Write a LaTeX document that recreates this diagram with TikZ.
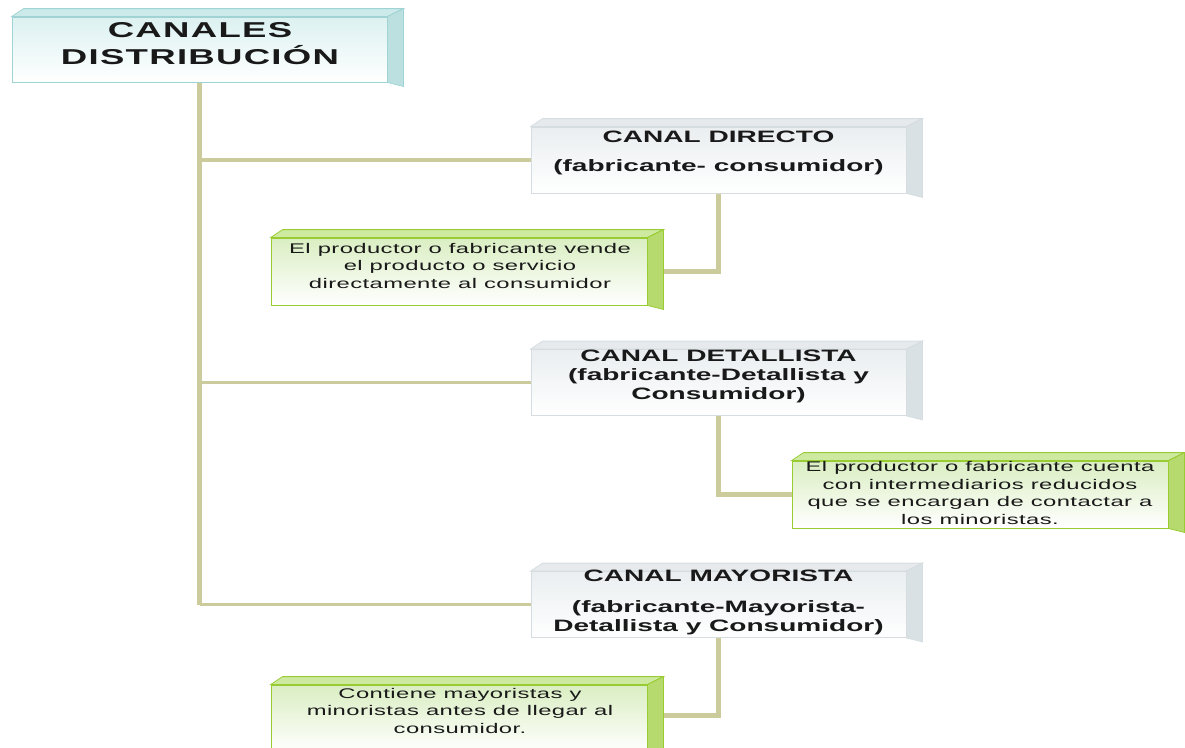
\documentclass[tikz,border=0pt]{standalone}
\usepackage{fontspec}
\setmainfont{Liberation Sans}[FakeStretch=1.7]
\newfontfamily\rootfont{Liberation Sans}[FakeStretch=1.7, LetterSpace=6]
\newfontfamily\notafont{Liberation Sans}[FakeStretch=1.7, LetterSpace=3]
\usepackage{tikz}
\usetikzlibrary{positioning,backgrounds}

\definecolor{linkcol}{RGB}{203,203,155}
\definecolor{rootfill}{RGB}{220,241,241}
\definecolor{rootline}{RGB}{160,212,212}
\definecolor{roottop}{RGB}{204,234,234}
\definecolor{rootside}{RGB}{188,224,224}
\definecolor{canalfill}{RGB}{234,238,240}
\definecolor{canalline}{RGB}{214,221,224}
\definecolor{canaltop}{RGB}{230,234,236}
\definecolor{canalside}{RGB}{218,225,228}
\definecolor{notafill}{RGB}{218,238,194}
\definecolor{notaline}{RGB}{153,204,51}
\definecolor{notatop}{RGB}{206,234,160}
\definecolor{notaside}{RGB}{182,218,110}

\tikzset{
  basic/.style  = {rectangle, inner sep=0pt, minimum width=375pt, line width=0.8pt},
  root/.style   = {basic, draw=rootline, top color=rootfill, bottom color=white,
                   minimum height=65pt},
  canal/.style  = {basic, draw=canalline, top color=canalfill, bottom color=white,
                   minimum height=66pt},
  nota/.style   = {basic, draw=notaline, top color=notafill, bottom color=white,
                   minimum height=67pt, minimum width=376pt},
  root text/.style  = {inner sep=0pt, align=center, text=black!90,
                   font=\rootfont\bfseries\fontsize{21.5}{27}\selectfont},
  canal text/.style = {inner sep=0pt, align=center, text=black!90,
                   font=\bfseries\fontsize{16.5}{19}\selectfont},
  nota text/.style  = {inner sep=0pt, align=center, text=black!90,
                   font=\notafont\fontsize{14}{17.5}\selectfont},
  trunk/.style  = {draw=linkcol, line width=5.5pt},
  branch/.style = {draw=linkcol, line width=3.5pt},
  link/.style   = {draw=linkcol, line width=4.5pt}
}

% top and right faces of a box: node, top colour, side colour, border colour
\newcommand{\boxsides}[4]{%
  \filldraw[draw=#4, fill=#2, line width=0.8pt] (#1.north west) -- ++(12,-8)
    -- ([shift={(16,-8)}]#1.north east) -- (#1.north east) -- cycle;
  \filldraw[draw=#4, fill=#3, line width=0.8pt] (#1.north east) -- ++(16,-8)
    -- ([shift={(16,4)}]#1.south east) -- (#1.south east) -- cycle;
}

\begin{document}
\begin{tikzpicture}[x=1pt, y=-1pt]
\useasboundingbox (0,0) rectangle (1185,747);

% title
\node[root] (root) at (199.5,49.5) {};
\boxsides{root}{roottop}{rootside}{rootline}
\node[root text] (root-t) at (200,43.5) {CANALES\\DISTRIBUCIÓN};

% the three channels
\node[canal] (directo) at (718.5,160) {};
\boxsides{directo}{canaltop}{canalside}{canalline}
\node[canal text] (directo-t) at (718.5,152.5) {CANAL DIRECTO\\[10pt](fabricante- consumidor)};

\node[canal] (detallista) at (718.5,382.5) {};
\boxsides{detallista}{canaltop}{canalside}{canalline}
\node[canal text] (detallista-t) at (718.5,376) {CANAL DETALLISTA\\(fabricante-Detallista y\\Consumidor)};

\node[canal] (mayorista) at (718.5,604.5) {};
\boxsides{mayorista}{canaltop}{canalside}{canalline}
\node[canal text] (mayorista-t) at (718.5,602.5) {CANAL MAYORISTA\\[12pt](fabricante-Mayorista-\\Detallista y Consumidor)};

% notes
\node[nota] (nota1) at (459,271.5) {};
\boxsides{nota1}{notatop}{notaside}{notaline}
\node[nota text] (nota1-t) at (460,265.5) {El productor o fabricante vende\\el producto o servicio\\directamente al consumidor};

\node[nota] (nota2) at (980,494.5) {};
\boxsides{nota2}{notatop}{notaside}{notaline}
\node[nota text] (nota2-t) at (980,493) {El productor o fabricante cuenta\\con intermediarios reducidos\\que se encargan de contactar a\\los minoristas.};

\node[nota] (nota3) at (459,718.5) {};
\boxsides{nota3}{notatop}{notaside}{notaline}
\node[nota text] (nota3-t) at (460,710.5) {Contiene mayoristas y\\minoristas antes de llegar al\\consumidor.};

% connectors, behind the boxes
\begin{scope}[on background layer]
  \draw[trunk] (root.south) -- (root.south |- mayorista.west);
  \draw[branch] (root.south |- directo.west) -- (directo.west);
  \draw[branch] (root.south |- detallista.west) -- (detallista.west);
  \draw[branch] (root.south |- mayorista.west) -- (mayorista.west);

  \draw[link] (directo.south) |- (nota1.east);
  \draw[link] (detallista.south) |- (nota2.west);
  \draw[link] (mayorista.south) |- ([yshift=3pt]nota3.east);
\end{scope}

\end{tikzpicture}
\end{document}
